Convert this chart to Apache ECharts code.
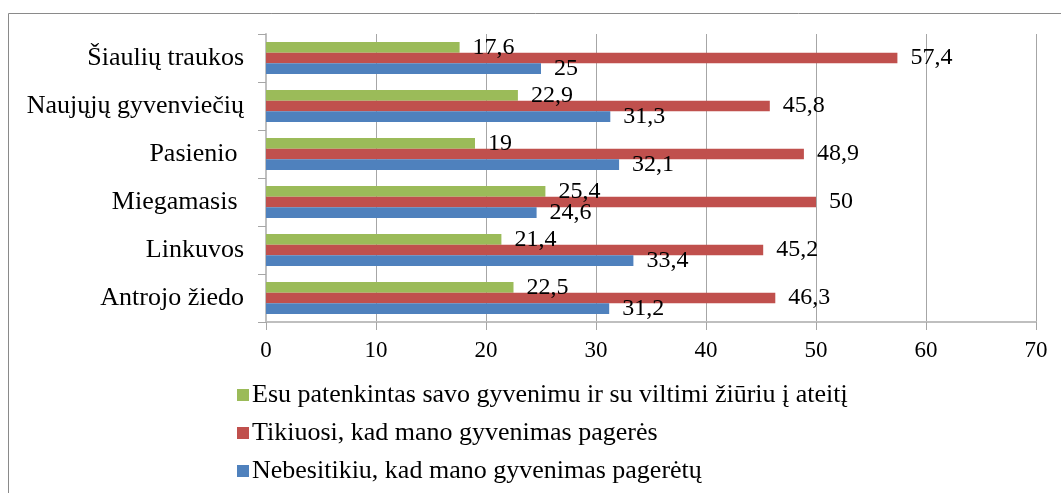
<!DOCTYPE html>
<html>
<head>
<meta charset="utf-8">
<script src="https://cdn.jsdelivr.net/npm/echarts@6/dist/echarts.min.js"></script>
<style>
html,body{margin:0;padding:0;background:#fff;}
#c{width:1061px;height:493px;}
</style>
</head>
<body>
<div id="c"></div>
<script>
// Categories listed bottom to top
var categories = ['Antrojo žiedo', 'Linkuvos', 'Miegamasis ', 'Pasienio ', 'Naujųjų gyvenviečių', 'Šiaulių traukos'];
var seriesNames = [
  'Esu patenkintas savo gyvenimu ir su viltimi žiūriu į ateitį',
  'Tikiuosi, kad mano gyvenimas pagerės',
  'Nebesitikiu, kad mano gyvenimas pagerėtų'
];
var greenValues = [22.5, 21.4, 25.4, 19, 22.9, 17.6];
var redValues   = [46.3, 45.2, 50, 48.9, 45.8, 57.4];
var blueValues  = [31.2, 33.4, 24.6, 32.1, 31.3, 25];
var xTicks = { min: 0, max: 70, interval: 10 };

var FONT = '"Liberation Serif", "DejaVu Serif", serif';
var colors = ['#9BBB59', '#C0504D', '#4F81BD'];

function mk(name, data, color) {
  return {
    name: name,
    type: 'bar',
    data: data,
    barGap: '0%',
    barCategoryGap: '33%',
    itemStyle: { color: color },
    label: {
      show: true,
      position: 'right',
      distance: 13,
      fontFamily: FONT,
      fontSize: 24,
      color: '#000',
      formatter: function (p) { return String(p.value).replace('.', ','); }
    },
    z: 2
  };
}

var chart = echarts.init(document.getElementById('c'), null, { renderer: 'canvas' });
chart.setOption({
  animation: false,
  backgroundColor: '#fff',
  textStyle: { fontFamily: FONT },
  grid: { left: 266, right: 25, top: 34, bottom: 171, containLabel: false },
  graphic: [{
    type: 'rect',
    shape: { x: 8.5, y: 13.5, width: 1200, height: 600 },
    style: { fill: 'none', stroke: '#8a8a8a', lineWidth: 1 },
    silent: true,
    z: -1
  }],
  legend: {
    orient: 'vertical',
    left: 232,
    top: 377,
    itemWidth: 12,
    itemHeight: 12,
    itemGap: 12,
    icon: 'rect',
    data: seriesNames,
    textStyle: { fontFamily: FONT, fontSize: 26, color: '#000', padding: [0, 0, 0, -2] }
  },
  xAxis: {
    type: 'value',
    min: xTicks.min,
    max: xTicks.max,
    interval: xTicks.interval,
    axisLine: { show: true, lineStyle: { color: '#bfbfbf', width: 2 } },
    axisTick: { show: true, length: 8, lineStyle: { color: '#a6a6a6' } },
    axisLabel: { fontFamily: FONT, fontSize: 23, color: '#000', margin: 17 },
    splitLine: { show: true, lineStyle: { color: '#a6a6a6', width: 1 } }
  },
  yAxis: {
    type: 'category',
    data: categories,
    axisLine: { show: true, lineStyle: { color: '#bfbfbf', width: 2 } },
    axisTick: { show: true, length: 8, lineStyle: { color: '#a6a6a6' } },
    axisLabel: { fontFamily: FONT, fontSize: 26, color: '#000', margin: 22 },
    splitLine: { show: false }
  },
  series: [
    mk(seriesNames[0], greenValues, colors[0]),
    mk(seriesNames[1], redValues, colors[1]),
    mk(seriesNames[2], blueValues, colors[2])
  ]
});
</script>
</body>
</html>
